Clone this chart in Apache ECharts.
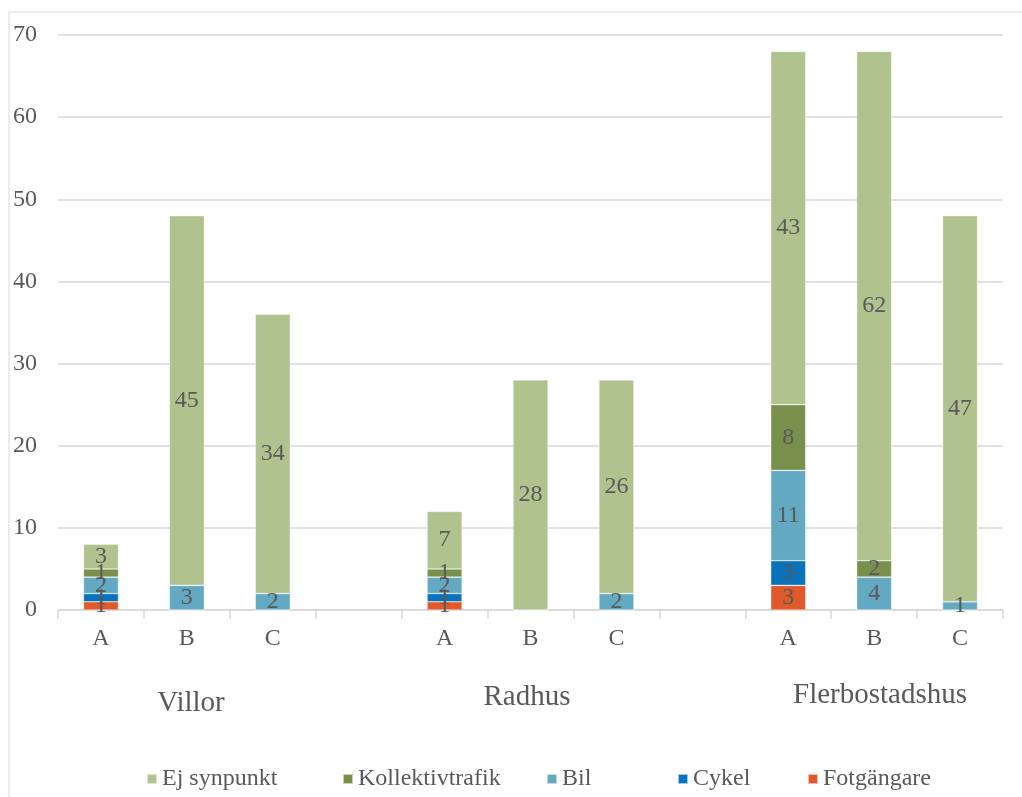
<!DOCTYPE html>
<html>
<head>
<meta charset="utf-8">
<script src="https://cdn.jsdelivr.net/npm/echarts@6/dist/echarts.min.js"></script>
<style>
  html, body { margin: 0; padding: 0; background: #fff; }
  #chart { width: 1022px; height: 797px; }
</style>
</head>
<body>
<div id="chart"></div>
<script>
// Sub-categories per housing type; empty slots separate the three groups
const categories = ['A', 'B', 'C', '', 'A', 'B', 'C', '', 'A', 'B', 'C'];
const groups = ['Villor', 'Radhus', 'Flerbostadshus'];

// Answers per transport mode (stacked bottom to top)
const fotgangare      = [1, 0, 0, null, 1, 0, 0, null, 3, 0, 0];
const cykel           = [1, 0, 0, null, 1, 0, 0, null, 3, 0, 0];
const bil             = [2, 3, 2, null, 2, 0, 2, null, 11, 4, 1];
const kollektivtrafik = [1, 0, 0, null, 1, 0, 0, null, 8, 2, 0];
const ejSynpunkt      = [3, 45, 34, null, 7, 28, 26, null, 43, 62, 47];

const yTicks = { min: 0, max: 70, interval: 10 };

const FONT = "'Liberation Serif', 'Times New Roman', serif";
const GREY = '#595959';

const seriesDefs = [
  { name: 'Fotgängare', data: fotgangare, color: '#E0592A' },
  { name: 'Cykel', data: cykel, color: '#0A72BA' },
  { name: 'Bil', data: bil, color: '#62A9C1' },
  { name: 'Kollektivtrafik', data: kollektivtrafik, color: '#78904B' },
  { name: 'Ej synpunkt', data: ejSynpunkt, color: '#B0C38F' }
];

// one legend per entry so each sits in its own column
const legendOrder = ['Ej synpunkt', 'Kollektivtrafik', 'Bil', 'Cykel', 'Fotgängare'];
const legendLeft = [141, 337, 541, 672, 802];

const chart = echarts.init(document.getElementById('chart'), null, { renderer: 'canvas' });

chart.setOption({
  animation: false,
  backgroundColor: '#fff',
  grid: { left: 58, right: 19, top: 35, bottom: 187, containLabel: false },
  legend: legendOrder.map((name, i) => ({
    data: [name],
    left: legendLeft[i],
    top: 762,
    itemWidth: 10,
    itemHeight: 10,
    itemGap: 4,
    icon: 'rect',
    textStyle: { fontFamily: FONT, fontSize: 24, color: GREY },
    selectedMode: false
  })),
  xAxis: {
    type: 'category',
    data: categories,
    axisLine: { lineStyle: { color: '#D9D9D9', width: 1.5 } },
    axisTick: { show: true, length: 9, alignWithLabel: false, lineStyle: { color: '#D9D9D9', width: 1.5 } },
    axisLabel: { fontFamily: FONT, fontSize: 24, color: GREY, margin: 17, interval: 0 },
    splitLine: { show: false }
  },
  yAxis: {
    type: 'value',
    min: yTicks.min,
    max: yTicks.max,
    interval: yTicks.interval,
    axisLine: { show: false },
    axisTick: { show: false },
    axisLabel: { fontFamily: FONT, fontSize: 24, color: GREY, margin: 21 },
    splitLine: { lineStyle: { color: '#D9D9D9', width: 1.5 } }
  },
  series: seriesDefs.map(s => ({
    name: s.name,
    type: 'bar',
    stack: 'total',
    barWidth: 35,
    data: s.data,
    itemStyle: { color: s.color, borderColor: 'rgba(255,255,255,0.6)', borderWidth: 0.6 },
    label: {
      show: true,
      position: 'inside',
      fontFamily: FONT,
      fontSize: 24,
      color: GREY,
      formatter: p => (p.value ? String(p.value) : '')
    }
  })),
  graphic: [
    {
      type: 'rect',
      shape: { x: 9, y: 12, width: 1030, height: 800 },
      style: { fill: 'none', stroke: '#D9D9D9', lineWidth: 1 },
      silent: true
    },
    { type: 'text', x: 191, y: 703, style: { text: groups[0], fontFamily: FONT, fontSize: 29, fill: GREY, textAlign: 'center', textVerticalAlign: 'middle' } },
    { type: 'text', x: 527, y: 697, style: { text: groups[1], fontFamily: FONT, fontSize: 29, fill: GREY, textAlign: 'center', textVerticalAlign: 'middle' } },
    { type: 'text', x: 880, y: 695, style: { text: groups[2], fontFamily: FONT, fontSize: 29, fill: GREY, textAlign: 'center', textVerticalAlign: 'middle' } }
  ]
});
</script>
</body>
</html>
